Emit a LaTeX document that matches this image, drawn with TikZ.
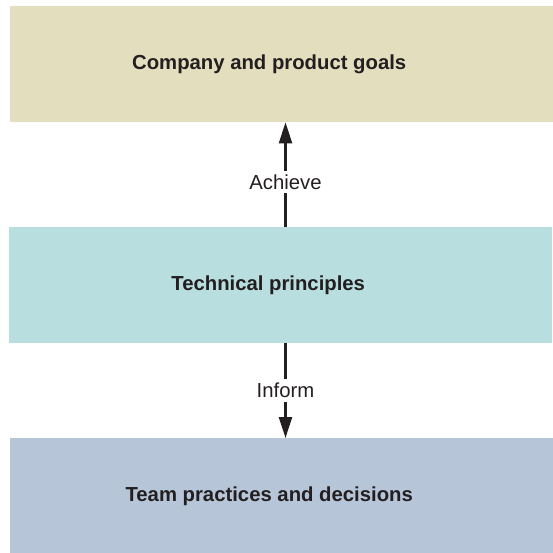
\documentclass[tikz,border=0pt]{standalone}
\usepackage{fontspec}
\setmainfont{Liberation Sans}
\usetikzlibrary{arrows.meta}

\definecolor{GoalFill}{HTML}{E3DFBE}
\definecolor{PrincipleFill}{HTML}{B8DEDF}
\definecolor{PracticeFill}{HTML}{B6C5D8}
\definecolor{Ink}{HTML}{231F20}

\begin{document}
\begin{tikzpicture}[%
        x = 1pt,
        y = -1pt,
        level/.style = {rectangle, anchor = north west, inner sep = 0pt,
            minimum width = 543pt, minimum height = 116pt},
        heading/.style = {font = \fontsize{20.3}{22}\selectfont\bfseries,
            text = Ink, xshift = -12.5pt},
        link/.style = {draw = Ink, line width = 2.4pt,
            -{Triangle[length = 21pt, width = 13pt]}},
        tag/.style = {fill = white, text = Ink, inner sep = 4pt,
            font = \fontsize{20.3}{22}\selectfont}
    ]
        % Page size.
        \useasboundingbox (0, 0) rectangle (553, 553);

        % Vertical line that both arrows run along.
        \coordinate (Spine) at (285.5, 0);

        % Boxes for the three levels.
        \node[level, fill = GoalFill,
            label = {[heading]center:Company and product goals}]
            (goals) at (10, 6) {};
        \node[level, fill = PrincipleFill,
            label = {[heading]center:Technical principles}]
            (principles) at (9, 227) {};
        \node[level, fill = PracticeFill, minimum height = 120pt,
            label = {[heading, yshift = 2pt]center:Team practices and decisions}]
            (practices) at (10, 438) {};

        % Arrow up from the principles to the goals.
        \draw[link] (principles.north -| Spine)
            to node[tag, pos = 0.43] {Achieve} (goals.south -| Spine);

        % Arrow down from the principles to the practices.
        \draw[link] (principles.south -| Spine)
            to node[tag, pos = 0.5] {Inform} (practices.north -| Spine);
    \end{tikzpicture}
\end{document}
